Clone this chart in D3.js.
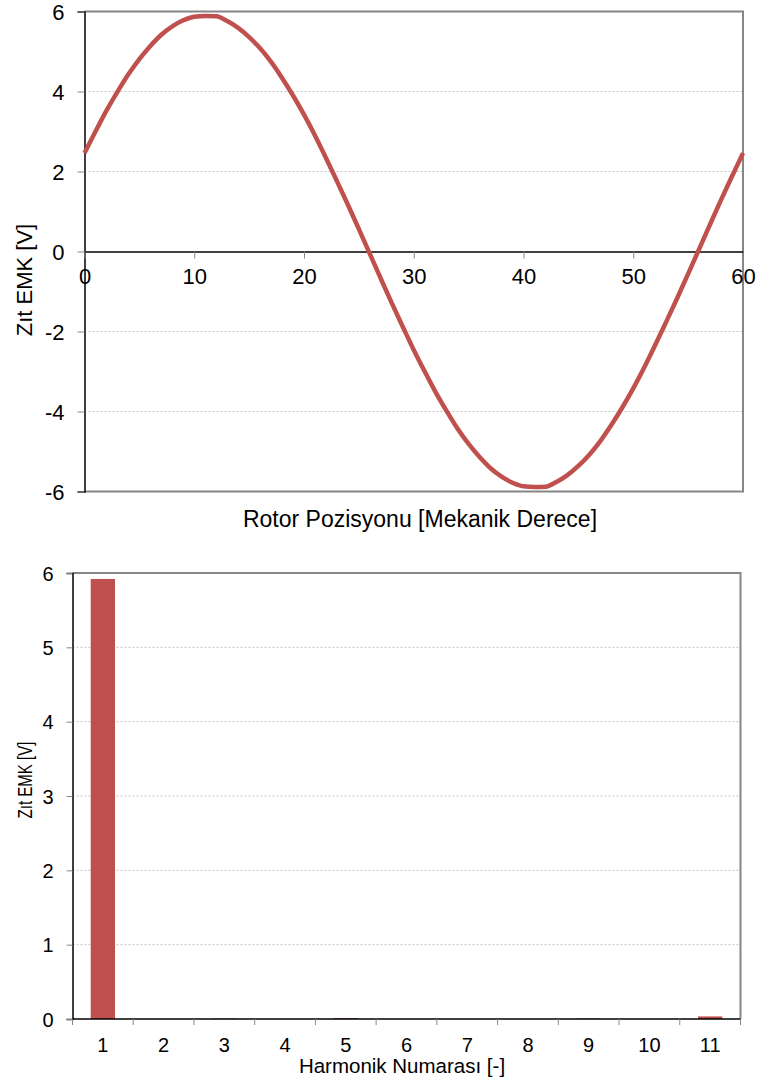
<!DOCTYPE html>
<meta charset="utf-8" />
<script src="https://d3js.org/d3.v7.min.js"></script>
<style>
  body { margin: 0; background: #fff; }
  svg { font-family: "Liberation Sans", Arial, Helvetica, sans-serif; display: block; }
</style>
<body>
<div id="chart"></div>
</body>
<script>
  // rotor position [mechanical degrees] and back EMF [V]
  const rotorDeg = [0,1,2,3,4,5,6,7,8,9,10,11,12,13,14,15,16,17,18,19,20,
    21,22,23,24,25,26,27,28,29,30,31,32,33,34,35,36,37,38,39,40,
    41,42,43,44,45,46,47,48,49,50,51,52,53,54,55,56,57,58,59,60];
  const emf = [2.46,3.00,3.52,3.99,4.43,4.81,5.14,5.42,5.63,5.78,5.87,5.89,5.88,5.76,5.59,5.36,5.08,4.74,4.34,3.90,3.42,
    2.90,2.34,1.76,1.17,0.56,-0.06,-0.68,-1.29,-1.88,-2.46,-3.00,-3.52,-3.99,-4.43,-4.81,-5.14,-5.42,-5.63,-5.78,-5.87,
    -5.89,-5.88,-5.76,-5.59,-5.36,-5.08,-4.74,-4.34,-3.90,-3.42,-2.90,-2.34,-1.76,-1.17,-0.56,0.06,0.68,1.29,1.88,2.46];
  const xTicksTop = [0, 10, 20, 30, 40, 50, 60];
  const yTicksTop = [-6, -4, -2, 0, 2, 4, 6];

  // harmonic spectrum
  const harmonics = ["1","2","3","4","5","6","7","8","9","10","11"];
  const harmAmp = [5.92, 0, 0.005, 0, 0.012, 0, 0, 0, 0.006, 0, 0.035];
  const yTicksBot = [0, 1, 2, 3, 4, 5, 6];

  const red = "#C0504D";
  const frame = "#868686";
  const plain = d => String(d);   // hyphen minus, like the original

  const svg = d3.select("#chart").append("svg")
    .attr("width", 760)
    .attr("height", 1083);

  // ---------- top chart: line ----------
  const p1 = {left: 84.5, right: 743, top: 11.5, bottom: 491.5};
  const x1 = d3.scaleLinear().domain([0, 60]).range([p1.left, p1.right]);
  const y1 = d3.scaleLinear().domain([-6, 6]).range([p1.bottom, p1.top]);

  const g1 = svg.append("g");

  // gridlines
  g1.append("g").selectAll("line")
    .data(yTicksTop.filter(d => d !== 0 && Math.abs(d) !== 6))
    .join("line")
      .attr("x1", p1.left).attr("x2", p1.right)
      .attr("y1", d => y1(d)).attr("y2", d => y1(d))
      .attr("stroke", "#c4c4c4")
      .attr("stroke-dasharray", "2,2");

  // frame (top/right/bottom grey)
  g1.append("path")
    .attr("d", `M${p1.left},${p1.top}H${p1.right}V${p1.bottom}H${p1.left}`)
    .attr("fill", "none").attr("stroke", frame).attr("stroke-width", 2);

  // y axis
  const yAxis1 = g1.append("g")
    .attr("transform", `translate(${p1.left},0)`)
    .call(d3.axisLeft(y1).tickValues(yTicksTop).tickSize(7).tickPadding(13).tickFormat(plain));
  yAxis1.select(".domain").attr("stroke", "#000").attr("stroke-width", 1.5);
  yAxis1.selectAll(".tick line").attr("stroke", frame);
  yAxis1.selectAll("text").attr("font-size", 22).attr("fill", "#000")
    .attr("font-family", "Liberation Sans, Arial, sans-serif").attr("dy", "0.38em");

  // x axis at zero
  const xAxis1 = g1.append("g")
    .attr("transform", `translate(0,${y1(0)})`)
    .call(d3.axisBottom(x1).tickValues(xTicksTop).tickSize(7).tickPadding(9).tickSizeOuter(0).tickFormat(plain));
  xAxis1.select(".domain").attr("stroke", "#000").attr("stroke-width", 1.5);
  xAxis1.selectAll(".tick line").attr("stroke", frame);
  xAxis1.selectAll("text").attr("font-size", 22).attr("fill", "#000")
    .attr("font-family", "Liberation Sans, Arial, sans-serif").attr("dy", "0.75em");

  // curve
  g1.append("path")
    .datum(rotorDeg.map((d, i) => [d, emf[i]]))
    .attr("fill", "none")
    .attr("stroke", red)
    .attr("stroke-width", 4.5)
    .attr("stroke-linejoin", "round")
    .attr("d", d3.line().x(d => x1(d[0])).y(d => y1(d[1])).curve(d3.curveMonotoneX));

  g1.append("text")
    .attr("x", 420).attr("y", 527)
    .attr("text-anchor", "middle").attr("font-size", 23)
    .text("Rotor Pozisyonu [Mekanik Derece]");

  g1.append("text")
    .attr("transform", "translate(32,280) rotate(-90)")
    .attr("text-anchor", "middle").attr("font-size", 22)
    .text("Zıt EMK [V]");

  // ---------- bottom chart: bars ----------
  const p2 = {left: 72.5, right: 740.5, top: 573, bottom: 1019};
  const xb = d3.scaleBand().domain(harmonics).range([p2.left, p2.right]);
  const y2 = d3.scaleLinear().domain([0, 6]).range([p2.bottom, p2.top]);

  const g2 = svg.append("g");

  g2.append("g").selectAll("line")
    .data(yTicksBot.filter(d => d !== 0 && d !== 6))
    .join("line")
      .attr("x1", p2.left).attr("x2", p2.right)
      .attr("y1", d => y2(d)).attr("y2", d => y2(d))
      .attr("stroke", "#c4c4c4")
      .attr("stroke-dasharray", "2,2");

  g2.append("path")
    .attr("d", `M${p2.left},${p2.top}H${p2.right}V${p2.bottom}`)
    .attr("fill", "none").attr("stroke", frame).attr("stroke-width", 2);

  g2.append("g").selectAll("rect")
    .data(harmAmp)
    .join("rect")
      .attr("x", (d, i) => xb(harmonics[i]) + xb.bandwidth() * 0.3)
      .attr("width", xb.bandwidth() * 0.4)
      .attr("y", d => y2(d))
      .attr("height", d => y2(0) - y2(d))
      .attr("fill", red);

  const yAxis2 = g2.append("g")
    .attr("transform", `translate(${p2.left},0)`)
    .call(d3.axisLeft(y2).tickValues(yTicksBot).tickSize(6).tickPadding(13).tickFormat(plain));
  yAxis2.select(".domain").attr("stroke", "#000").attr("stroke-width", 1.5);
  yAxis2.selectAll(".tick line").attr("stroke", frame);
  yAxis2.selectAll("text").attr("font-size", 20).attr("fill", "#000")
    .attr("font-family", "Liberation Sans, Arial, sans-serif").attr("dy", "0.36em");

  // x axis: ticks between categories
  const xAxis2 = g2.append("g").attr("transform", `translate(0,${p2.bottom})`);
  xAxis2.append("line")
    .attr("x1", p2.left).attr("x2", p2.right)
    .attr("stroke", "#000").attr("stroke-width", 1.5);
  xAxis2.selectAll("line.tk")
    .data(harmonics.concat(["end"]))
    .join("line").attr("class", "tk")
      .attr("x1", (d, i) => i < harmonics.length ? xb(d) : p2.right)
      .attr("x2", (d, i) => i < harmonics.length ? xb(d) : p2.right)
      .attr("y1", 0).attr("y2", 6)
      .attr("stroke", frame);
  xAxis2.selectAll("text")
    .data(harmonics)
    .join("text")
      .attr("x", d => xb(d) + xb.bandwidth() / 2)
      .attr("y", 33)
      .attr("text-anchor", "middle")
      .attr("font-size", 20)
      .text(d => d);

  g2.append("text")
    .attr("x", 402).attr("y", 1073)
    .attr("text-anchor", "middle").attr("font-size", 20.5)
    .text("Harmonik Numarası [-]");

  g2.append("text")
    .attr("transform", "translate(32,780) rotate(-90)")
    .attr("text-anchor", "middle").attr("font-size", 21)
    .attr("textLength", 77).attr("lengthAdjust", "spacingAndGlyphs")
    .text("Zıt EMK [V]");
</script>
